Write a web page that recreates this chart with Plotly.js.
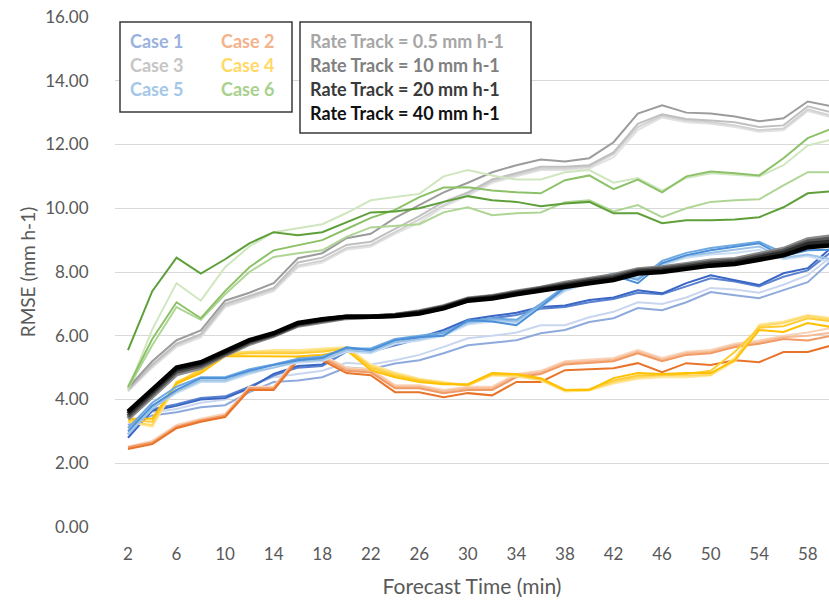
<!DOCTYPE html>
<html>
<head>
<meta charset="utf-8">
<script src="https://cdn.plot.ly/plotly-3.0.1.min.js"></script>
<style>html,body{margin:0;padding:0;background:#fff;}#chart{width:829px;height:600px;}</style>
</head>
<body>
<div id="chart"></div>
<script>
// Forecast time categories (min)
const forecastTime = [2,4,6,8,10,12,14,16,18,20,22,24,26,28,30,32,34,36,38,40,42,44,46,48,50,52,54,56,58,60];
const xTickLabels = [2,6,10,14,18,22,26,30,34,38,42,46,50,54,58];
const rateTracks = ["0.5","10","20","40"];

// Case 1 (blue)
const case1_r05 = [3.30,3.60,3.70,3.90,4.00,4.40,4.70,4.80,4.90,5.15,5.10,5.23,5.40,5.65,5.92,6.00,6.10,6.33,6.33,6.58,6.75,7.05,7.00,7.20,7.50,7.45,7.35,7.60,7.90,8.50];
const case1_r10 = [3.20,3.50,3.60,3.76,3.82,4.23,4.55,4.60,4.70,5.00,4.95,5.13,5.23,5.45,5.70,5.77,5.86,6.08,6.18,6.43,6.55,6.87,6.80,7.05,7.37,7.27,7.18,7.43,7.68,8.37];
const case1_r20 = [2.90,3.70,3.85,4.05,4.10,4.40,4.75,5.00,5.05,5.50,5.50,5.70,5.90,6.10,6.45,6.55,6.65,6.85,6.90,7.05,7.15,7.35,7.30,7.55,7.80,7.70,7.55,7.85,8.05,8.65];
const case1_r40 = [2.80,3.65,3.80,4.00,4.05,4.35,4.80,5.05,5.10,5.60,5.55,5.75,5.95,6.18,6.50,6.62,6.72,6.90,6.95,7.12,7.20,7.43,7.33,7.65,7.90,7.74,7.59,7.96,8.12,8.78];
// Case 2 (orange)
const case2_r05 = [2.52,2.70,3.20,3.40,3.55,4.40,4.40,5.35,5.40,5.00,4.95,4.45,4.45,4.30,4.40,4.40,4.80,4.90,5.20,5.25,5.30,5.55,5.30,5.50,5.55,5.75,5.85,6.00,6.10,6.25];
const case2_r10 = [2.48,2.62,3.12,3.32,3.48,4.32,4.32,5.28,5.35,4.95,4.90,4.40,4.40,4.25,4.35,4.35,4.75,4.85,5.15,5.20,5.25,5.50,5.25,5.45,5.50,5.70,5.80,5.95,6.00,6.10];
const case2_r20 = [2.50,2.65,3.15,3.35,3.50,4.35,4.35,5.30,5.30,4.90,4.85,4.35,4.35,4.20,4.30,4.30,4.70,4.80,5.10,5.15,5.20,5.45,5.20,5.40,5.45,5.65,5.75,5.90,5.85,6.00];
const case2_r40 = [2.45,2.60,3.10,3.30,3.45,4.30,4.30,5.23,5.23,4.83,4.76,4.23,4.23,4.07,4.20,4.13,4.55,4.55,4.92,4.95,4.98,5.14,4.86,5.14,5.08,5.23,5.17,5.49,5.49,5.70];
// Case 3 (grey)
const case3_r05 = [4.25,5.00,5.65,5.95,6.90,7.15,7.40,8.15,8.30,8.70,8.80,9.20,9.55,10.05,10.40,10.80,11.00,11.20,11.20,11.25,11.60,12.45,12.85,12.70,12.65,12.55,12.40,12.45,13.05,12.85];
const case3_r10 = [4.28,5.05,5.70,6.00,6.95,7.20,7.45,8.20,8.35,8.75,8.85,9.25,9.65,10.10,10.45,10.85,11.05,11.25,11.25,11.30,11.70,12.55,12.90,12.75,12.70,12.60,12.45,12.50,13.10,12.90];
const case3_r20 = [4.30,5.10,5.75,6.05,7.00,7.25,7.50,8.30,8.45,8.85,8.95,9.35,9.75,10.20,10.50,10.90,11.10,11.30,11.30,11.35,11.75,12.65,12.95,12.80,12.75,12.70,12.55,12.60,13.20,13.00];
const case3_r40 = [4.36,5.20,5.86,6.17,7.10,7.35,7.65,8.43,8.59,9.06,9.20,9.70,10.10,10.50,10.80,11.13,11.35,11.53,11.47,11.57,12.07,12.97,13.23,13.00,12.97,12.88,12.73,12.82,13.35,13.20];
// Case 4 (yellow)
const case4_r05 = [3.30,3.15,4.45,5.00,5.45,5.50,5.55,5.55,5.60,5.65,5.10,4.85,4.65,4.55,4.45,4.75,4.72,4.60,4.25,4.28,4.50,4.65,4.70,4.70,4.75,5.20,6.35,6.45,6.65,6.55];
const case4_r10 = [3.30,3.20,4.50,4.95,5.45,5.50,5.50,5.50,5.55,5.60,5.05,4.80,4.62,4.52,4.45,4.78,4.75,4.62,4.28,4.30,4.55,4.70,4.75,4.75,4.78,5.30,6.30,6.40,6.62,6.50];
const case4_r20 = [3.35,3.30,4.55,4.90,5.40,5.45,5.45,5.45,5.50,5.60,5.00,4.75,4.60,4.50,4.45,4.80,4.78,4.65,4.30,4.32,4.60,4.75,4.78,4.80,4.90,5.50,6.25,6.30,6.55,6.45];
const case4_r40 = [3.40,3.40,4.50,4.83,5.36,5.35,5.35,5.35,5.40,5.55,4.92,4.70,4.55,4.48,4.48,4.83,4.80,4.67,4.30,4.30,4.67,4.83,4.80,4.83,4.83,5.23,6.18,6.12,6.40,6.27];
// Case 5 (light blue)
const case5_r05 = [2.95,3.75,4.20,4.55,4.55,4.80,5.00,5.15,5.20,5.50,5.45,5.75,5.85,6.00,6.35,6.45,6.40,6.90,7.40,7.65,7.80,7.85,8.20,8.45,8.55,8.60,8.70,8.40,8.50,8.30];
const case5_r10 = [2.90,3.70,4.25,4.60,4.60,4.85,5.00,5.20,5.25,5.55,5.50,5.80,5.90,6.05,6.40,6.50,6.45,6.95,7.45,7.70,7.85,7.80,8.25,8.50,8.60,8.70,8.80,8.45,8.55,8.40];
const case5_r20 = [3.10,3.90,4.40,4.70,4.70,4.95,5.10,5.28,5.35,5.60,5.60,5.90,6.00,6.10,6.45,6.55,6.50,7.00,7.55,7.75,7.95,7.75,8.35,8.60,8.75,8.85,8.95,8.60,8.75,8.95];
const case5_r40 = [3.00,3.80,4.30,4.67,4.67,4.90,5.08,5.23,5.30,5.64,5.55,5.86,5.96,6.00,6.49,6.45,6.33,6.90,7.52,7.80,7.90,7.65,8.28,8.53,8.68,8.78,8.90,8.50,8.68,8.70];
// Case 6 (green)
const case6_r05 = [4.30,6.20,7.65,7.10,8.15,8.80,9.25,9.37,9.50,9.85,10.25,10.35,10.45,11.00,11.20,11.03,10.90,10.90,11.13,11.20,10.80,10.95,10.55,10.95,11.10,11.05,11.00,11.35,11.97,12.16];
const case6_r10 = [4.35,5.70,6.90,6.50,7.30,8.00,8.47,8.59,8.68,9.10,9.40,9.45,9.50,9.87,10.03,9.78,9.84,9.87,10.19,10.25,9.90,10.10,9.72,10.00,10.20,10.25,10.28,10.72,11.13,11.13];
const case6_r20 = [4.40,5.90,7.05,6.55,7.40,8.15,8.68,8.84,9.00,9.35,9.70,9.95,10.35,10.65,10.66,10.56,10.50,10.47,10.88,11.03,10.60,10.90,10.50,11.00,11.15,11.10,11.03,11.57,12.20,12.50];
const case6_r40 = [5.55,7.40,8.45,7.95,8.40,8.90,9.25,9.15,9.25,9.55,9.87,9.90,10.00,10.20,10.38,10.25,10.20,10.06,10.15,10.20,9.84,9.84,9.53,9.62,9.62,9.65,9.72,10.03,10.47,10.53];
// Mean over all cases
const mean_r05 = [3.40,4.10,4.80,5.00,5.40,5.75,6.00,6.32,6.45,6.56,6.60,6.65,6.76,6.92,7.16,7.24,7.38,7.50,7.66,7.77,7.90,8.08,8.14,8.24,8.35,8.40,8.55,8.72,9.02,9.12];
const mean_r10 = [3.47,4.18,4.88,5.06,5.44,5.80,6.03,6.35,6.48,6.58,6.60,6.64,6.74,6.90,7.14,7.22,7.35,7.48,7.63,7.74,7.85,8.04,8.10,8.20,8.30,8.35,8.50,8.66,8.95,9.05];
const mean_r20 = [3.55,4.25,4.95,5.12,5.48,5.84,6.06,6.38,6.50,6.60,6.60,6.63,6.72,6.88,7.12,7.20,7.33,7.45,7.60,7.70,7.80,8.00,8.05,8.15,8.25,8.30,8.44,8.60,8.88,8.95];
const mean_r40 = [3.62,4.32,5.00,5.17,5.50,5.86,6.08,6.40,6.52,6.60,6.60,6.62,6.70,6.86,7.10,7.17,7.30,7.42,7.55,7.65,7.75,7.95,8.00,8.10,8.20,8.25,8.38,8.52,8.78,8.84];

const caseNames = ["Case 1","Case 2","Case 3","Case 4","Case 5","Case 6"];
const caseSeries = [
  [case1_r05, case1_r10, case1_r20, case1_r40],
  [case2_r05, case2_r10, case2_r20, case2_r40],
  [case3_r05, case3_r10, case3_r20, case3_r40],
  [case4_r05, case4_r10, case4_r20, case4_r40],
  [case5_r05, case5_r10, case5_r20, case5_r40],
  [case6_r05, case6_r10, case6_r20, case6_r40]
];
const meanSeries = [mean_r05, mean_r10, mean_r20, mean_r40];

// styles
const caseColors = [
  ["#c9d6f0","#8eaadc","#5a82d0","#3a66c4"],
  ["#f9d3b8","#f6bb94","#f19a65","#e8742a"],
  ["#e2e2e2","#d2d2d2","#c0c0c0","#9c9c9c"],
  ["#ffe699","#ffd966","#ffcc33","#ffc000"],
  ["#c9def2","#9dc3e6","#6ea9e0","#4a8fd8"],
  ["#cfe6bf","#afd595","#8cc168","#5e9f3a"]
];
const meanColors = ["#8a8a8a","#555555","#2a2a2a","#000000"];
const legendTextColors = ["#9ab2e0","#f4b38a","#c6c6c6","#ffd966","#a4c7e8","#a9d18e"];
const rateTextColors = ["#a6a6a6","#808080","#3a3a3a","#111111"];

const traces = [];
caseSeries.forEach((group, ci) => {
  group.forEach((vals, ri) => {
    traces.push({
      x: forecastTime, y: vals, type: "scatter", mode: "lines",
      name: caseNames[ci] + ", Rate Track = " + rateTracks[ri] + " mm h-1",
      line: {color: caseColors[ci][ri], width: 2},
      showlegend: false
    });
  });
});
meanSeries.forEach((vals, ri) => {
  traces.push({
    x: forecastTime, y: vals, type: "scatter", mode: "lines",
    name: "Mean, Rate Track = " + rateTracks[ri] + " mm h-1",
    line: {color: meanColors[ri], width: 4.5},
    showlegend: false
  });
});

// legend boxes (plot area: 115..829 px horizontally, 17..527 px vertically)
const px = v => (v - 115) / 714;
const py = v => (527 - v) / 510;
const shapes = [
  {type:"rect", xref:"paper", yref:"paper", x0:px(120), x1:px(292), y0:py(112), y1:py(22),
   line:{color:"#3a3a3a", width:1.5}, fillcolor:"#ffffff", layer:"above"},
  {type:"rect", xref:"paper", yref:"paper", x0:px(300), x1:px(531), y0:py(133), y1:py(22),
   line:{color:"#3a3a3a", width:1.5}, fillcolor:"#ffffff", layer:"above"}
];
const annotations = [];
const legendFont = "Lato, 'Open Sans', sans-serif";
const caseCols = [156, 247];
const rowsY = [41, 65, 89, 113];
caseNames.forEach((nm, i) => {
  annotations.push({
    xref:"paper", yref:"paper", x:px(caseCols[i % 2]), y:py(rowsY[Math.floor(i/2)]),
    text:"<b>"+nm+"</b>", showarrow:false, xanchor:"center", yanchor:"middle",
    font:{family:legendFont, size:18, color:legendTextColors[i]}
  });
});
rateTracks.forEach((r, i) => {
  annotations.push({
    xref:"paper", yref:"paper", x:px(308), y:py(rowsY[i]),
    text:"<b>Rate Track = "+r+" mm h-1</b>", showarrow:false, xanchor:"left", yanchor:"middle",
    font:{family:legendFont, size:18, color:rateTextColors[i]}
  });
});

const layout = {
  width: 829, height: 600,
  margin: {l:115, r:0, t:17, b:73, pad:0},
  paper_bgcolor:"#ffffff", plot_bgcolor:"#ffffff",
  font: {family:"Lato, 'Open Sans', sans-serif", color:"#595959", size:16},
  xaxis: {
    range:[0.93, 59.75], tickmode:"array", tickvals:xTickLabels, ticktext:xTickLabels.map(String),
    showgrid:false, zeroline:false, showline:false,
    ticks:"outside", ticklen:12, tickcolor:"rgba(0,0,0,0)",
    tickfont:{size:17, color:"#595959"},
    title:{text:"Forecast Time (min)", font:{size:21, color:"#595959"}, standoff:15}
  },
  yaxis: {
    range:[0, 16], dtick:2, tick0:0, tickformat:".2f",
    showgrid:true, gridcolor:"#d9d9d9", gridwidth:1, zeroline:false, showline:false,
    ticks:"outside", ticklen:22, tickcolor:"rgba(0,0,0,0)",
    tickfont:{size:17, color:"#595959"},
    title:{text:"RMSE (mm h-1)", font:{size:19, color:"#595959"}, standoff:4}
  },
  shapes: shapes,
  annotations: annotations,
  showlegend:false
};

Plotly.newPlot("chart", traces, layout, {displayModeBar:false, staticPlot:true});
</script>
</body>
</html>
